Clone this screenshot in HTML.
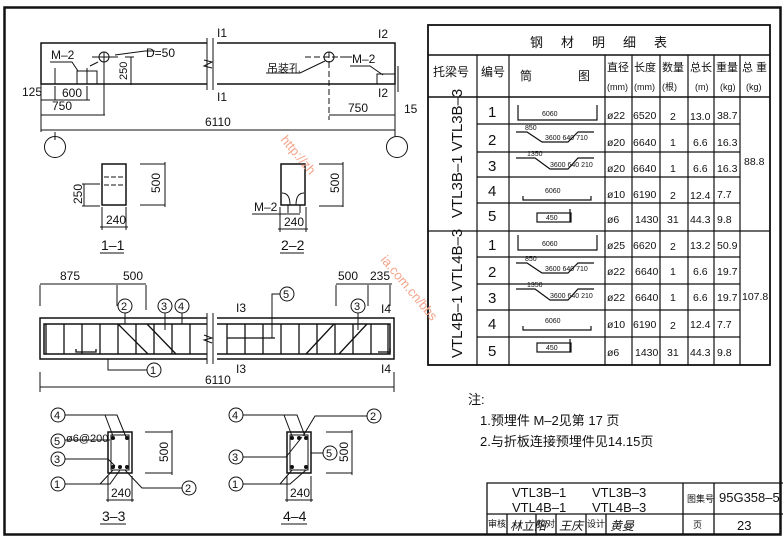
<!DOCTYPE html>
<html><head><meta charset="utf-8"><style>
body{margin:0;background:#fff}
svg{display:block}
text{font-family:"Liberation Sans","Noto Sans CJK SC",sans-serif;fill:#111;stroke:none}
</style></head><body>
<svg width="784" height="540" viewBox="0 0 784 540" xmlns="http://www.w3.org/2000/svg" stroke="#111" fill="none" stroke-width="1">
<rect x="4.5" y="7.5" width="776" height="527" stroke-width="2.5"/>
<g stroke-width="1.5">
<path d="M207 43H41V84H207M217 43H395V84H217"/>
<path d="M207 38V90M213 38V90" stroke-width="1"/>
<path d="M204 60L212 62L204 66L212 68" stroke-width="1"/>
</g>
<text x="217" y="37" font-size="12">I1</text><text x="217" y="101" font-size="12">I1</text>
<text x="378" y="38" font-size="12">I2</text><text x="378" y="97" font-size="12">I2</text>
<path d="M398 66V92"/>
<rect x="77" y="71" width="20" height="13"/>
<path d="M87 68V84M55 68V84"/>
<circle cx="104" cy="57" r="5"/>
<path d="M104 52V62M92 57H118M115 55L145 51H155M98 62L90 66"/>
<text x="146" y="57" font-size="12">D=50</text>
<text x="51" y="59" font-size="12">M–2</text><path d="M50 62H72L78 71"/>
<path d="M131 57V85M125 57H134"/>
<text x="127" y="80" font-size="11" transform="rotate(-90 127 80)">250</text>
<circle cx="329" cy="57" r="5"/><path d="M329 52V62M305 57H340M329 62V120" stroke-dasharray="6 3"/>
<path d="M340 57H352"/>
<text x="267" y="72" font-size="11">吊装孔</text><path d="M266 73H300L325 61"/>
<text x="352" y="63" font-size="12">M–2</text><path d="M350 66H370L383 75"/>
<rect x="377" y="74" width="18" height="10"/>
<path d="M41 84V132M55 86V100M87 86V100M104 62V115M41 100H90M41 115H105M41 130H395M329 115H395M395 84V132"/>
<text x="22" y="96" font-size="12">125</text><text x="62" y="97" font-size="12">600</text>
<text x="52" y="110" font-size="12">750</text><text x="348" y="112" font-size="12">750</text>
<text x="404" y="113" font-size="12">15</text><text x="205" y="126" font-size="12">6110</text>
<path d="M55 132V140"/><circle cx="55" cy="147" r="10.5"/>
<path d="M395 132V137"/><circle cx="397" cy="147" r="10.5"/>
<rect x="102" y="164" width="24" height="41" stroke-width="1.5"/>
<path d="M104 177H124M104 185H124" stroke-dasharray="5 2"/>
<path d="M140 164H165V205H140M165 162V207M84 184V206M82 184H100M82 206H100M102 207V230M126 207V230M100 227H128"/>
<text x="160" y="193" font-size="12" transform="rotate(-90 160 193)">500</text>
<text x="82" y="204" font-size="12" transform="rotate(-90 82 204)">250</text>
<text x="106" y="224" font-size="12">240</text>
<text x="101" y="250" font-size="14">1–1</text><path d="M100 253H124"/>
<path d="M281 164H305V205H281Z" stroke-width="1.5"/>
<path d="M282 193Q290 193 290 205M304 193Q296 193 296 205"/>
<path d="M288 205V213M300 205V213M319 164H343V206H319M343 162V207M280 207V232M306 207V232M278 229H308M252 214H300"/>
<text x="254" y="211" font-size="12">M–2</text>
<text x="339" y="193" font-size="12" transform="rotate(-90 339 193)">500</text>
<text x="284" y="226" font-size="12">240</text>
<text x="281" y="250" font-size="14">2–2</text><path d="M280 253H304"/>
<g stroke-width="1.5">
<path d="M207 318H40V359H207M217 318H394V359H217"/>
<path d="M207 324H44V354H207M217 324H390V354H217"/>
</g>
<path d="M207 313V364M213 313V364"/>
<path d="M204 335L212 338L204 340L212 343"/>
<g stroke-width="1.3">
<path d="M46 324V354M64 324V354M82 324V354M100 324V354M118 324V354M136 324V354M154 324V354M172 324V354M190 324V354M227 324V354M245 324V354M263 324V354M281 324V354M299 324V354M317 324V354M335 324V354M353 324V354M371 324V354M388 324V354"/>
<path d="M118 324L148 354M147 324L176 354M306 354L334 324M339 354L367 324"/>
<path d="M227 338H275M76 349V352H96V349M378 352H390V348"/>
</g>
<text x="236" y="312" font-size="12">I3</text><text x="236" y="373" font-size="12">I3</text>
<text x="381" y="313" font-size="12">I4</text><text x="381" y="373" font-size="12">I4</text>
<path d="M40 285V306M117 285V306M146 285V310M336 285V306M368 285V306M390 285V306M40 284H146M336 284H392"/>
<text x="60" y="280" font-size="12">875</text><text x="123" y="280" font-size="12">500</text>
<text x="338" y="280" font-size="12">500</text><text x="370" y="280" font-size="12">235</text>
<path d="M40 372V392M394 372V392M40 387H394"/><text x="205" y="384" font-size="12">6110</text>
<g font-size="11">
<circle cx="125" cy="306" r="7"/><text x="121" y="310">2</text><path d="M125 313V324"/>
<circle cx="165" cy="306" r="7"/><text x="161" y="310">3</text><path d="M165 313V330"/>
<circle cx="182" cy="306" r="7"/><text x="178" y="310">4</text><path d="M182 313V324"/>
<circle cx="287" cy="294" r="7"/><text x="283" y="298">5</text><path d="M280 294H272V338"/>
<circle cx="358" cy="306" r="7"/><text x="354" y="310">3</text><path d="M358 313V330"/>
<circle cx="154" cy="370" r="7"/><text x="150" y="374">1</text><path d="M147 370H108V359"/>
</g>
<rect x="108" y="432" width="24" height="41" stroke-width="1.5"/>
<rect x="111" y="435" width="18" height="35"/>
<g fill="#111" stroke="none"><circle cx="113" cy="438" r="2"/><circle cx="127" cy="438" r="2"/><circle cx="113" cy="467" r="2"/><circle cx="120" cy="467" r="2"/><circle cx="127" cy="467" r="2"/></g>
<g font-size="11">
<circle cx="58" cy="415" r="7"/><text x="54" y="419">4</text><path d="M65 415H117L126 437M105 415L113 436"/>
<circle cx="58" cy="441" r="7"/><text x="54" y="445">5</text><path d="M65 440H110"/>
<text x="66" y="442" font-size="11">ø6@200</text>
<circle cx="58" cy="459" r="7"/><text x="54" y="463">3</text><path d="M65 459H108L115 466"/>
<circle cx="58" cy="484" r="7"/><text x="54" y="488">1</text><path d="M65 484H110L120 470M100 484L113 470"/>
<circle cx="189" cy="488" r="7"/><text x="185" y="492">2</text><path d="M182 488H142L125 470"/>
</g>
<path d="M145 432H172V473H145M172 430V475M108 476V502M132 476V502M106 500H134"/>
<text x="168" y="462" font-size="12" transform="rotate(-90 168 462)">500</text>
<text x="111" y="497" font-size="12">240</text>
<text x="102" y="521" font-size="14">3–3</text><path d="M100 524H126"/>
<rect x="287" y="432" width="24" height="41" stroke-width="1.5"/>
<rect x="290" y="435" width="18" height="35"/>
<g fill="#111" stroke="none"><circle cx="292" cy="438" r="2"/><circle cx="299" cy="438" r="2"/><circle cx="306" cy="438" r="2"/><circle cx="292" cy="467" r="2"/><circle cx="306" cy="467" r="2"/></g>
<g font-size="11">
<circle cx="236" cy="415" r="7"/><text x="232" y="419">4</text><path d="M243 415H297L305 436M284 415L292 436"/>
<circle cx="374" cy="416" r="7"/><text x="370" y="420">2</text><path d="M367 416H315L303 436"/>
<circle cx="236" cy="457" r="7"/><text x="232" y="461">3</text><path d="M243 457H286L302 437"/>
<circle cx="330" cy="453" r="7"/><text x="326" y="457">5</text><path d="M323 453H311"/>
<circle cx="236" cy="484" r="7"/><text x="232" y="488">1</text><path d="M243 484H290L306 470M280 484L292 470"/>
</g>
<path d="M326 432H352V473H326M352 430V475M287 476V502M311 476V502M285 500H313"/>
<text x="348" y="462" font-size="12" transform="rotate(-90 348 462)">500</text>
<text x="290" y="497" font-size="12">240</text>
<text x="283" y="521" font-size="14">4–4</text><path d="M281 524H307"/>
<g stroke-width="1.2">
<rect x="428" y="25" width="342" height="340" stroke-width="1.8"/>
<path d="M428 55H770M428 97H770" stroke-width="1.5"/>
<path d="M477 55V365M509 55V365M605 55V365M632 55V365M660 55V365M688 55V365M714 55V365M740 55V365"/>
<path d="M428 231H770"/>
<path d="M477 124H740M477 152H740M477 177H740M477 203H740M477 257H740M477 284H740M477 310H740M477 337H740"/>
</g>
<text x="530" y="47" font-size="13" letter-spacing="18">钢材明细表</text>
<g font-size="12"><text x="433" y="76">托梁号</text><text x="481" y="76">编号</text><text x="520" y="80">筒</text><text x="578" y="80">图</text></g>
<g font-size="11"><text x="607" y="71">直径</text><text x="634" y="71">长度</text><text x="662" y="71">数量</text><text x="690" y="71">总长</text><text x="716" y="71">重量</text><text x="742" y="71">总 重</text></g>
<g font-size="9"><text x="607" y="90">(mm)</text><text x="634" y="90">(mm)</text><text x="662" y="90">(根)</text><text x="695" y="90">(m)</text><text x="720" y="90">(kg)</text><text x="746" y="90">(kg)</text></g>
<text x="462" y="218" font-size="15" transform="rotate(-90 462 218)">VTL3B–1 VTL3B–3</text>
<text x="462" y="358" font-size="15" transform="rotate(-90 462 358)">VTL4B–1 VTL4B–3</text>
<g font-size="15">
<text x="488" y="117">1</text><text x="488" y="145">2</text><text x="488" y="171">3</text><text x="488" y="196">4</text><text x="488" y="221">5</text>
<text x="488" y="250">1</text><text x="488" y="277">2</text><text x="488" y="303">3</text><text x="488" y="329">4</text><text x="488" y="356">5</text>
</g>
<g stroke-width="1.2">
<path d="M518 105V120H597V105"/><path d="M518 235V250H597V235"/>
<path d="M516 132H527L542 142H568L578 132H594"/><path d="M516 158H535L550 169H568L578 158H594"/>
<path d="M516 263H527L542 273H568L578 263H594"/><path d="M516 289H535L550 300H568L578 289H594"/>
<path d="M523 196V200H591V196"/><path d="M523 326V330H591V326"/>
<rect x="537" y="213" width="34" height="9"/><path d="M570 209V222"/>
<rect x="537" y="343" width="34" height="9"/><path d="M570 339V352"/>
</g>
<g font-size="7">
<text x="542" y="116">6060</text><text x="542" y="246">6060</text>
<text x="525" y="130">850</text><text x="545" y="140">3600 640 710</text>
<text x="527" y="156">1350</text><text x="550" y="167">3600 640 210</text>
<text x="525" y="261">850</text><text x="545" y="271">3600 640 710</text>
<text x="527" y="287">1350</text><text x="550" y="298">3600 640 210</text>
<text x="545" y="193">6060</text><text x="545" y="323">6060</text>
<text x="546" y="220">450</text><text x="546" y="350">450</text>
</g>
<g font-size="10.5">
<text x="607" y="119">ø22</text><text x="633" y="119">6520</text><text x="670" y="120">2</text><text x="690" y="120">13.0</text><text x="717" y="119">38.7</text>
<text x="607" y="146">ø20</text><text x="633" y="146">6640</text><text x="670" y="146">1</text><text x="693" y="146">6.6</text><text x="717" y="146">16.3</text>
<text x="607" y="172">ø20</text><text x="633" y="172">6640</text><text x="670" y="172">1</text><text x="693" y="172">6.6</text><text x="717" y="172">16.3</text>
<text x="607" y="198">ø10</text><text x="633" y="198">6190</text><text x="670" y="199">2</text><text x="690" y="199">12.4</text><text x="717" y="198">7.7</text>
<text x="607" y="223">ø6</text><text x="635" y="223">1430</text><text x="667" y="223">31</text><text x="690" y="223">44.3</text><text x="717" y="223">9.8</text>
<text x="607" y="249">ø25</text><text x="633" y="249">6620</text><text x="670" y="250">2</text><text x="690" y="249">13.2</text><text x="717" y="249">50.9</text>
<text x="607" y="275">ø22</text><text x="635" y="275">6640</text><text x="670" y="275">1</text><text x="693" y="275">6.6</text><text x="717" y="275">19.7</text>
<text x="607" y="301">ø22</text><text x="635" y="301">6640</text><text x="670" y="301">1</text><text x="693" y="301">6.6</text><text x="717" y="301">19.7</text>
<text x="607" y="328">ø10</text><text x="633" y="328">6190</text><text x="670" y="329">2</text><text x="690" y="328">12.4</text><text x="717" y="328">7.7</text>
<text x="607" y="356">ø6</text><text x="635" y="356">1430</text><text x="667" y="356">31</text><text x="690" y="356">44.3</text><text x="717" y="356">9.8</text>
<text x="744" y="165">88.8</text><text x="742" y="300">107.8</text>
</g>
<g font-size="13"><text x="468" y="404">注:</text><text x="480" y="425">1.预埋件 M–2见第 17 页</text><text x="480" y="446">2.与折板连接预埋件见14.15页</text></g>
<g stroke-width="1.3">
<path d="M487 534V483H783M487 514H683M683 483V534M714 483V534M683 514H783"/>
<path d="M507 514V534M536 514V534M556 514V534M586 514V534M606 514V534"/>
</g>
<g font-size="13"><text x="512" y="497">VTL3B–1</text><text x="592" y="497">VTL3B–3</text><text x="512" y="512">VTL4B–1</text><text x="592" y="512">VTL4B–3</text>
<text x="719" y="502">95G358–5</text><text x="737" y="530">23</text></g>
<g font-size="9"><text x="488" y="527">审核</text><text x="537" y="527">校对</text><text x="587" y="527">设计</text><text x="687" y="502">图集号</text><text x="693" y="528">页</text></g>
<g font-size="12" font-style="italic"><text x="510" y="530">林立阳</text><text x="559" y="530">王庆</text><text x="610" y="530">黄曼</text></g>
<text x="280" y="140" font-size="13" fill="#f4a48a" style="fill:#f4a48a" transform="rotate(50 280 140)">http://zh</text>
<text x="380" y="260" font-size="13" style="fill:#f4a48a" transform="rotate(50 380 260)">ia.com.cn/bbs</text>
</svg>
</body></html>
